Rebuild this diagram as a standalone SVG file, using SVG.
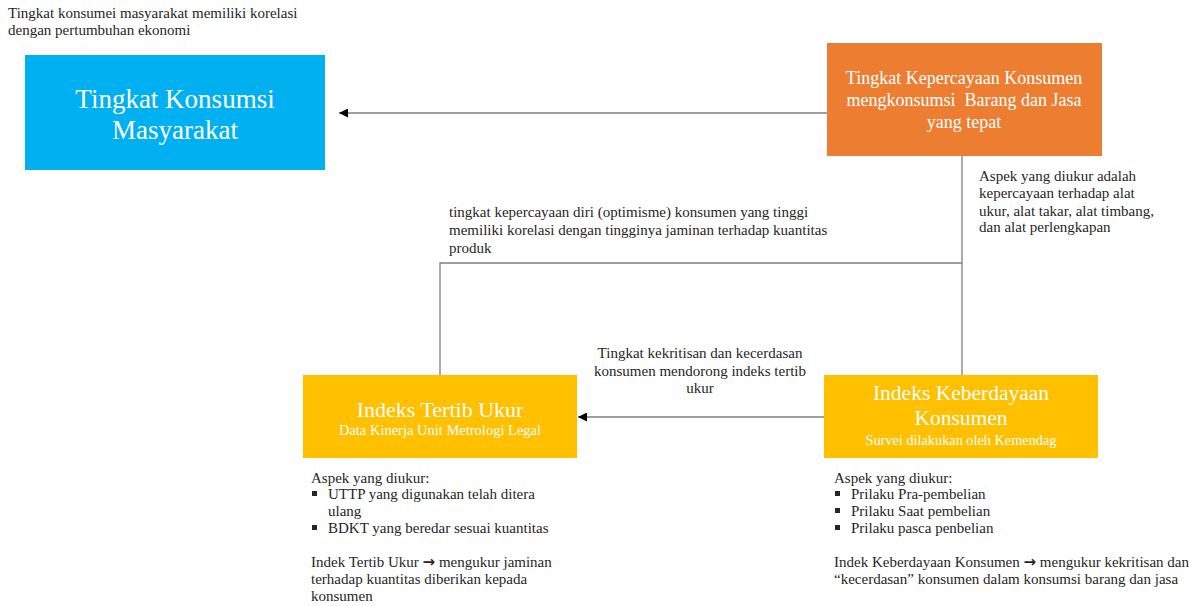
<svg xmlns="http://www.w3.org/2000/svg" width="1199" height="606" viewBox="0 0 1199 606">
<defs>
<style>
text{font-family:"Liberation Serif","DejaVu Serif",serif;}
.t{font-size:15px;fill:#262626;}
.w{fill:#ffffff;text-anchor:middle;}
.ar{font-family:"DejaVu Sans",sans-serif;font-size:15px;font-weight:bold;}
.ln{fill:none;stroke:#7f7f7f;stroke-width:1.3;}
</style>
<marker id="ah" viewBox="0 0 10 10" refX="10" refY="5" markerWidth="9" markerHeight="9" markerUnits="userSpaceOnUse" orient="auto">
<path d="M0,0 L10,5 L0,10 z" fill="#000"/>
</marker>
</defs>
<rect width="1199" height="606" fill="#ffffff"/>

<g id="connectors">
<line class="ln" x1="827" y1="113" x2="339" y2="113" marker-end="url(#ah)"/>
<line class="ln" x1="824" y1="417" x2="578" y2="417" marker-end="url(#ah)"/>
<polyline class="ln" points="962,156 962,375"/>
<polyline class="ln" points="962,263 440,263 440,375"/>
</g>

<g id="note-top-left">
<text class="t" x="8" y="18">Tingkat konsumei masyarakat memiliki korelasi</text>
<text class="t" x="8" y="35">dengan pertumbuhan ekonomi</text>
</g>

<g id="node-konsumsi">
<rect x="25" y="55" width="300" height="115" fill="#00B0F0"/>
<text class="w" x="175" y="108" font-size="27">Tingkat Konsumsi</text>
<text class="w" x="175" y="139" font-size="27">Masyarakat</text>
</g>

<g id="node-kepercayaan">
<rect x="827" y="43" width="275" height="113" fill="#ED7D31"/>
<text class="w" x="964" y="84" font-size="18">Tingkat Kepercayaan Konsumen</text>
<text class="w" x="964" y="106" font-size="18" xml:space="preserve">mengkonsumsi  Barang dan Jasa</text>
<text class="w" x="964" y="128" font-size="18">yang tepat</text>
</g>

<g id="note-aspek-kepercayaan">
<text class="t" x="979" y="181">Aspek yang diukur adalah</text>
<text class="t" x="979" y="198">kepercayaan terhadap alat</text>
<text class="t" x="979" y="216">ukur, alat takar, alat timbang,</text>
<text class="t" x="979" y="232">dan alat perlengkapan</text>
</g>

<g id="label-optimisme">
<text class="t" x="449" y="217">tingkat kepercayaan diri (optimisme) konsumen yang tinggi</text>
<text class="t" x="449" y="235">memiliki korelasi dengan tingginya jaminan terhadap kuantitas</text>
<text class="t" x="449" y="253">produk</text>
</g>

<g id="label-kekritisan">
<text class="t" x="700" y="358" text-anchor="middle">Tingkat kekritisan dan kecerdasan</text>
<text class="t" x="700" y="376" text-anchor="middle">konsumen mendorong indeks tertib</text>
<text class="t" x="700" y="393" text-anchor="middle">ukur</text>
</g>

<g id="node-tertib">
<rect x="303" y="375" width="274" height="83" fill="#FFC000"/>
<text class="w" x="440" y="417" font-size="22">Indeks Tertib Ukur</text>
<text class="w" x="440" y="435" font-size="14.5">Data Kinerja Unit Metrologi Legal</text>
</g>

<g id="node-keberdayaan">
<rect x="824" y="375" width="274" height="83" fill="#FFC000"/>
<text class="w" x="961" y="400" font-size="21.5">Indeks Keberdayaan</text>
<text class="w" x="961" y="425" font-size="21.5">Konsumen</text>
<text class="w" x="961" y="445" font-size="14.3">Survei dilakukan oleh Kemendag</text>
</g>

<g id="note-tertib">
<text class="t" x="311" y="483">Aspek yang diukur:</text>
<rect x="312" y="491" width="5" height="5" fill="#262626"/>
<text class="t" x="328" y="499">UTTP yang digunakan telah ditera</text>
<text class="t" x="328" y="516">ulang</text>
<rect x="312" y="525" width="5" height="5" fill="#262626"/>
<text class="t" x="328" y="533">BDKT yang beredar sesuai kuantitas</text>
<text class="t" x="311" y="567">Indek Tertib Ukur <tspan class="ar">→</tspan> mengukur jaminan</text>
<text class="t" x="311" y="584">terhadap kuantitas diberikan kepada</text>
<text class="t" x="311" y="601">konsumen</text>
</g>

<g id="note-keberdayaan">
<text class="t" x="834" y="483">Aspek yang diukur:</text>
<rect x="835" y="491" width="5" height="5" fill="#262626"/>
<text class="t" x="851" y="499">Prilaku Pra-pembelian</text>
<rect x="835" y="508" width="5" height="5" fill="#262626"/>
<text class="t" x="851" y="516">Prilaku Saat pembelian</text>
<rect x="835" y="525" width="5" height="5" fill="#262626"/>
<text class="t" x="851" y="533">Prilaku pasca penbelian</text>
<text class="t" x="834" y="567">Indek Keberdayaan Konsumen <tspan class="ar">→</tspan> mengukur kekritisan dan</text>
<text class="t" x="834" y="584">“kecerdasan” konsumen dalam konsumsi barang dan jasa</text>
</g>
</svg>
